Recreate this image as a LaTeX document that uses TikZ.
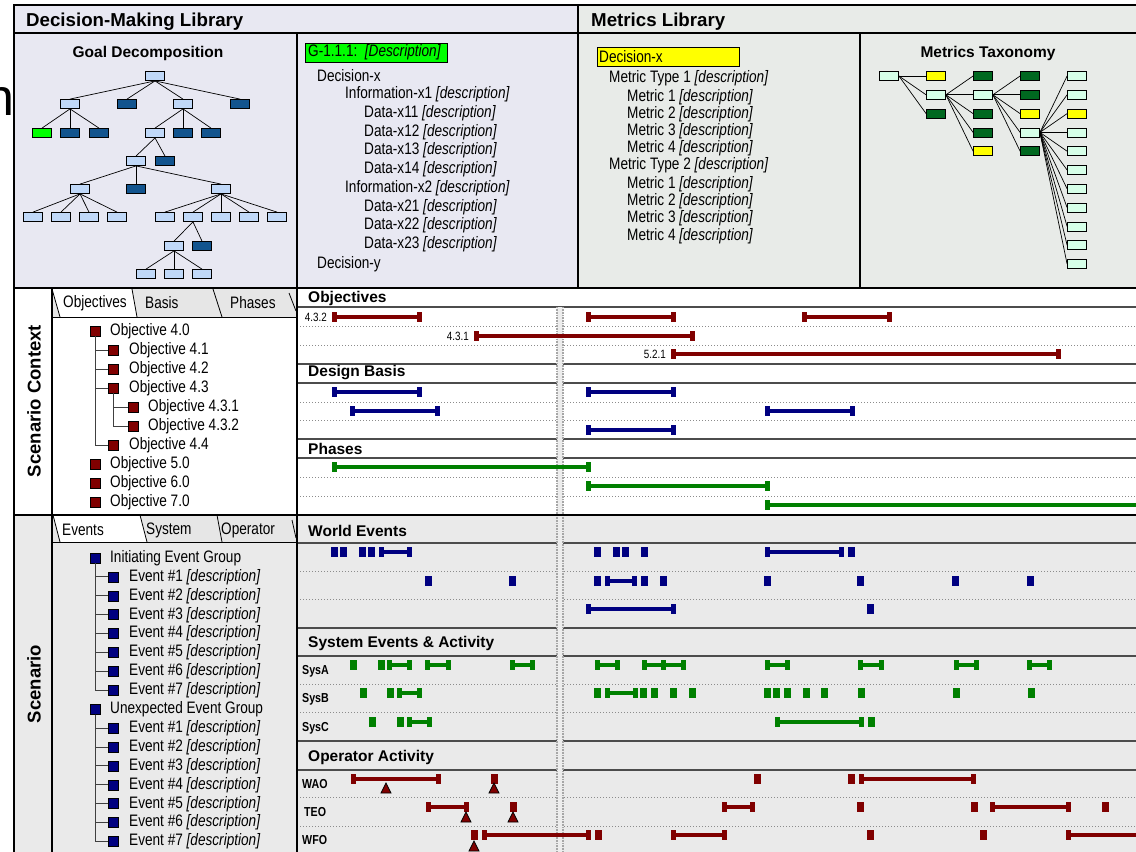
\documentclass[tikz,border=0pt]{standalone}
\usepackage{fontspec}
\setmainfont{Liberation Sans}[FakeStretch=0.82]
\newfontfamily\hf{Liberation Sans}
\definecolor{lbl}{RGB}{192,216,248}
\definecolor{dbl}{RGB}{18,84,142}
\definecolor{gbr}{RGB}{0,255,0}
\definecolor{mint}{RGB}{214,255,232}
\definecolor{dgr}{RGB}{0,104,32}
\definecolor{yel}{RGB}{255,255,0}
\definecolor{ored}{RGB}{128,0,0}
\definecolor{navy}{RGB}{0,0,128}
\definecolor{egr}{RGB}{0,128,0}
\definecolor{lav}{RGB}{232,232,242}
\definecolor{grg}{RGB}{232,235,232}
\definecolor{scg}{RGB}{234,234,234}
\definecolor{tabg}{RGB}{230,230,230}
\newcommand\tlbar[4]{\draw[#1,line width=3.5pt] (#3,#2)--(#4,#2);
  \fill[#1] ({#3-2.5},{#2-5}) rectangle ({#3+2.5},{#2+5});
  \fill[#1] ({#4-2.5},{#2-5}) rectangle ({#4+2.5},{#2+5});}
\newcommand\tlev[3]{\fill[#1] ({#3-3.5},{#2-5}) rectangle ({#3+3.5},{#2+5});}
\newcommand\tltri[2]{\draw[fill=ored,line width=0.7pt] ({#1-5},{#2+5}) -- (#1,{#2-5}) -- ({#1+5},{#2+5}) -- cycle;}
\tikzset{
  gbox/.style={draw=black,line width=0.8pt,minimum width=19pt,minimum height=9pt,inner sep=0pt},
  lb/.style={gbox,fill=lbl}, db/.style={gbox,fill=dbl}, gb/.style={gbox,fill=gbr},
  mb/.style={gbox,fill=mint}, dg/.style={gbox,fill=dgr}, yb/.style={gbox,fill=yel},
  osq/.style={draw=black,fill=ored,minimum size=10pt,inner sep=0pt,line width=0.6pt},
  nsq/.style={draw=black,fill=navy,minimum size=10pt,inner sep=0pt,line width=0.6pt},
  body/.style={font=\fontsize{16.6}{18}\selectfont,anchor=west,inner sep=0pt},
  sect/.style={font=\hf\bfseries\fontsize{15.5}{17}\selectfont,anchor=west,inner sep=0pt},
  head/.style={font=\hf\bfseries\fontsize{18.7}{20}\selectfont,anchor=west,inner sep=0pt},
  small/.style={font=\fontsize{12}{13}\selectfont,anchor=east,inner sep=0pt},
  rowlab/.style={font=\bfseries\fontsize{13}{14}\selectfont,anchor=west,inner sep=0pt},
  tree/.style={draw=black!75,line width=0.9pt},
  edge/.style={draw=black,line width=0.7pt},
  solidsep/.style={draw=black!70,line width=1.2pt},
  dotsep/.style={draw=black!45,dotted,line width=1pt},
  frame/.style={draw=black,line width=1.8pt},
}
\begin{document}
\begin{tikzpicture}[x=1pt,y=-1pt]
\useasboundingbox (0,0) rectangle (1136,852);
% backgrounds
\fill[lav] (14,5) rectangle (578,288);
\fill[grg] (578,5) rectangle (1136,288);
\fill[white] (14,288) rectangle (1136,515);
\fill[scg] (14,515) rectangle (1136,852);
% stray glyph at left
\node[font=\hf\fontsize{52}{52}\selectfont,anchor=base east,inner sep=0pt] (stray) at (14.5,115) {n};
% headers
\node[head] (hdl) at (26,22) {Decision-Making Library};
\node[head] (hml) at (591,22) {Metrics Library};
% ---------- goal decomposition ----------
\node[sect,anchor=center] (gdt) at (148,53) {Goal Decomposition};
\node[lb] (g0) at (155,76) {};
\node[lb] (g1) at (70,104) {};
\node[db] (g2) at (127,104) {};
\node[lb] (g3) at (183,104) {};
\node[db] (g4) at (240,104) {};
\node[gb] (g11) at (42,133) {};
\node[db] (g12) at (70,133) {};
\node[db] (g13) at (99,133) {};
\node[lb] (g31) at (155,133) {};
\node[db] (g32) at (183,133) {};
\node[db] (g33) at (211,133) {};
\node[lb] (g311) at (136,161) {};
\node[db] (g312) at (165,161) {};
\node[lb] (h1) at (80,189) {};
\node[db] (h2) at (136,189) {};
\node[lb] (h3) at (221,189) {};
\foreach \n/\x in {h11/33,h12/61,h13/89,h14/117,h31/165,h32/193,h33/221,h34/249,h35/277}
  \node[lb] (\n) at (\x,217) {};
\node[lb] (k1) at (174,246) {};
\node[db] (k2) at (202,246) {};
\foreach \n/\x in {m1/146,m2/174,m3/202}
  \node[lb] (\n) at (\x,274) {};
\foreach \p/\c in {g0/g1,g0/g2,g0/g3,g0/g4,g1/g11,g1/g12,g1/g13,g3/g31,g3/g32,g3/g33,
  g31/g311,g31/g312,g311/h1,g311/h2,g311/h3,h1/h11,h1/h12,h1/h13,h1/h14,
  h3/h31,h3/h32,h3/h33,h3/h34,h3/h35,h32/k1,h32/k2,k1/m1,k1/m2,k1/m3}
  \draw[edge] (\p.south) -- (\c.north);
% ---------- decision text ----------
\node[draw=black,fill=gbr,line width=0.8pt,minimum width=142pt,minimum height=19pt,inner sep=0pt,anchor=north west] (gid) at (305,43) {};
\node[body] (gidt) at (308,52.5) {G-1.1.1:\ \ \textit{[Description]}};
\node[body] (dx) at (317,76) {Decision-x};
\node[body] (ix1) at (345,94.5) {Information-x1 \textit{[description]}};
\node[body] (d11) at (364,113) {Data-x11 \textit{[description]}};
\node[body] (d12) at (364,132) {Data-x12 \textit{[description]}};
\node[body] (d13) at (364,150.5) {Data-x13 \textit{[description]}};
\node[body] (d14) at (364,169) {Data-x14 \textit{[description]}};
\node[body] (ix2) at (345,188) {Information-x2 \textit{[description]}};
\node[body] (d21) at (364,207) {Data-x21 \textit{[description]}};
\node[body] (d22) at (364,225.5) {Data-x22 \textit{[description]}};
\node[body] (d23) at (364,244) {Data-x23 \textit{[description]}};
\node[body] (dy) at (317,264) {Decision-y};
% ---------- metrics text ----------
\node[draw=black,fill=yel,line width=0.8pt,minimum width=142pt,minimum height=19pt,inner sep=0pt,anchor=north west] (mdx) at (597,47) {};
\node[body] (mdxt) at (599,57) {Decision-x};
\node[body] (mt1) at (609,78) {Metric Type 1 \textit{[description]}};
\node[body] (m11) at (627,97) {Metric 1 \textit{[description]}};
\node[body] (m12) at (627,114) {Metric 2 \textit{[description]}};
\node[body] (m13) at (627,131) {Metric 3 \textit{[description]}};
\node[body] (m14) at (627,148) {Metric 4 \textit{[description]}};
\node[body] (mt2) at (609,165) {Metric Type 2 \textit{[description]}};
\node[body] (m21) at (627,184) {Metric 1 \textit{[description]}};
\node[body] (m22) at (627,201) {Metric 2 \textit{[description]}};
\node[body] (m23) at (627,218) {Metric 3 \textit{[description]}};
\node[body] (m24) at (627,236) {Metric 4 \textit{[description]}};
% ---------- metrics taxonomy ----------
\node[sect,anchor=center] (mtt) at (988,53) {Metrics Taxonomy};
\node[mb] (t1) at (889,76) {};
\node[yb] (t21) at (936,76) {};
\node[mb] (t22) at (936,94.8) {};
\node[dg] (t23) at (936,113.6) {};
\node[dg] (t31) at (983,76) {};
\node[mb] (t32) at (983,94.8) {};
\node[dg] (t33) at (983,113.6) {};
\node[dg] (t34) at (983,132.4) {};
\node[yb] (t35) at (983,151.2) {};
\node[dg] (t41) at (1030,76) {};
\node[dg] (t42) at (1030,94.8) {};
\node[yb] (t43) at (1030,113.6) {};
\node[mb] (t44) at (1030,132.4) {};
\node[dg] (t45) at (1030,151.2) {};
\foreach \i in {1,...,11}{
  \pgfmathsetmacro\yy{76+18.8*(\i-1)}
  \ifnum\i=3 \node[yb] (t5\i) at (1077,\yy) {};
  \else \node[mb] (t5\i) at (1077,\yy) {}; \fi}
\foreach \c in {t21,t22,t23} \draw[edge] (t1.east) -- (\c.west);
\foreach \c in {t31,t32,t33,t34,t35} \draw[edge] (t22.east) -- (\c.west);
\foreach \c in {t41,t42,t43,t44,t45} \draw[edge] (t32.east) -- (\c.west);
\foreach \i in {1,...,11} \draw[edge] (t44.east) -- (t5\i.west);
% ---------- tab rows ----------
\fill[tabg] (52,288) rectangle (297,317);
\fill[white] (52,289) -- (132,289) -- (137,317) -- (60,317) -- cycle;
\foreach \a/\b/\c/\d in {52/289/60/317,132/289/137/317,213/289/222/317,289/293/296/311}
  \draw[black,line width=0.8pt] (\a,\b) -- (\c,\d);
\node[body] (tb1) at (63,303) {Objectives};
\node[body] (tb2) at (145,303) {Basis};
\node[body] (tb3) at (230,303) {Phases};
\fill[tabg] (52,515) rectangle (297,542);
\fill[white] (53,515) -- (140,515) -- (147,542) -- (60,542) -- cycle;
\foreach \a/\b/\c/\d in {53/515/60/542,140/515/147/542,217/515/222/542,292/520/296/538}
  \draw[black,line width=0.8pt] (\a,\b) -- (\c,\d);
\node[body] (tb4) at (62,530) {Events};
\node[body] (tb5) at (146,530) {System};
\node[body] (tb6) at (221,530) {Operator};
\draw[black,line width=1pt] (52,317) -- (297,317);
\draw[black,line width=1pt] (52,542) -- (297,542);
% side labels
\node[font=\hf\bfseries\fontsize{18.5}{20}\selectfont,rotate=90,inner sep=0pt] (scl) at (34,401) {Scenario Context};
\node[font=\hf\bfseries\fontsize{18.5}{20}\selectfont,rotate=90,inner sep=0pt] (scn) at (34,684) {Scenario};
% ---------- objectives tree ----------
\node[osq] (o40) at (95,331) {};   \node[body] (o40t) at (110,331) {Objective 4.0};
\node[osq] (o41) at (113,350) {};  \node[body] (o41t) at (129,350) {Objective 4.1};
\node[osq] (o42) at (113,369) {};  \node[body] (o42t) at (129,369) {Objective 4.2};
\node[osq] (o43) at (113,388) {};  \node[body] (o43t) at (129,388) {Objective 4.3};
\node[osq] (o431) at (133,407) {}; \node[body] (o431t) at (148,407) {Objective 4.3.1};
\node[osq] (o432) at (133,426) {}; \node[body] (o432t) at (148,426) {Objective 4.3.2};
\node[osq] (o44) at (113,445) {};  \node[body] (o44t) at (129,445) {Objective 4.4};
\node[osq] (o50) at (95,464) {};   \node[body] (o50t) at (110,464) {Objective 5.0};
\node[osq] (o60) at (95,483) {};   \node[body] (o60t) at (110,483) {Objective 6.0};
\node[osq] (o70) at (95,502) {};   \node[body] (o70t) at (110,502) {Objective 7.0};
\foreach \c in {o41,o42,o43,o44} \draw[tree] (o40.south) |- (\c.west);
\foreach \c in {o431,o432} \draw[tree] (o43.south) |- (\c.west);
% ---------- events tree ----------
\node[nsq] (i0) at (95,558) {};
\node[body] (i0t) at (110,558) {Initiating Event Group};
\foreach \k in {1,...,7}{
  \pgfmathsetmacro\yy{558+18.9*\k}
  \node[nsq] (ie\k) at (113,\yy) {};
  \node[body] (ie\k t) at (129,\yy) {Event \#\k\ \textit{[description]}};
  \draw[tree] (i0.south) |- (ie\k.west);}
\node[nsq] (u0) at (95,709.2) {};
\node[body] (u0t) at (110,709.2) {Unexpected Event Group};
\foreach \k in {1,...,7}{
  \pgfmathsetmacro\yy{709.2+18.9*\k}
  \node[nsq] (ue\k) at (113,\yy) {};
  \node[body] (ue\k t) at (129,\yy) {Event \#\k\ \textit{[description]}};
  \draw[tree] (u0.south) |- (ue\k.west);}
% ---------- timeline grid ----------
\foreach \y in {307,364,383,439,458,543,628,656,741,770} \draw[solidsep] (297,\y) -- (1136,\y);
\foreach \y in {326,345,402,420,477,496,571,599,684,712,797,826} \draw[dotsep] (297,\y) -- (1136,\y);
\fill[black!7] (557,307) rectangle (563,852);
\draw[black!35,line width=1.2pt,dash pattern=on 1pt off 0.6pt] (557,307) -- (557,852);
\draw[black!35,line width=1.2pt,dash pattern=on 1pt off 0.6pt] (563,307) -- (563,852);
% section titles
\node[sect] (s1) at (308,298) {Objectives};
\node[sect] (s2) at (308,373) {Design Basis};
\node[sect] (s3) at (308,449) {Phases};
\node[sect] (s4) at (308,531) {World Events};
\node[sect] (s5) at (308,643) {System Events \& Activity};
\node[sect] (s6) at (308,757) {Operator Activity};
\node[small] (l1) at (327,317) {4.3.2};
\node[small] (l2) at (469,336) {4.3.1};
\node[small] (l3) at (666,354) {5.2.1};
\node[rowlab] (r1) at (302,671) {SysA};
\node[rowlab] (r2) at (302,699) {SysB};
\node[rowlab] (r3) at (302,728) {SysC};
\node[rowlab] (r4) at (302,784) {WAO};
\node[rowlab] (r5) at (304,812) {TEO};
\node[rowlab] (r6) at (302,840) {WFO};
% objectives bars
\foreach \a/\b in {334/419,588/673,804/889} \tlbar{ored}{317}{\a}{\b};
\tlbar{ored}{336}{476}{692}
\tlbar{ored}{354}{673}{1058}
% design basis
\foreach \a/\b in {334/419,588/673} \tlbar{navy}{392}{\a}{\b};
\foreach \a/\b in {352/437,767/852} \tlbar{navy}{411}{\a}{\b};
\tlbar{navy}{430}{588}{673}
% phases
\tlbar{egr}{467}{334}{588}
\tlbar{egr}{486}{588}{767}
\tlbar{egr}{505}{767}{1145}
% world events
\foreach \x in {334,343,362,371,597,616,625,644,851} \tlev{navy}{552}{\x};
\foreach \a/\b in {381/409,767/841} \tlbar{navy}{552}{\a}{\b};
\foreach \x in {428,512,597,644,663,767,860,955,1030} \tlev{navy}{581}{\x};
\tlbar{navy}{581}{607}{634}
\tlbar{navy}{609}{588}{673}
\tlev{navy}{609}{870}
% system events
\foreach \x in {353,381} \tlev{egr}{665}{\x};
\foreach \a/\b in {389/409,427/448,512/532,597/617,644/663,663/683,767/787,860/881,956/976,1029/1049} \tlbar{egr}{665}{\a}{\b};
\foreach \x in {363,390,597,643,654,673,692,767,776,787,806,824,861,956,1031} \tlev{egr}{693}{\x};
\foreach \a/\b in {399/419,607/635} \tlbar{egr}{693}{\a}{\b};
\foreach \x in {372,400,871} \tlev{egr}{722}{\x};
\foreach \a/\b in {409/429,777/861} \tlbar{egr}{722}{\a}{\b};
% operator activity
\foreach \x in {494,757,851} \tlev{ored}{779}{\x};
\foreach \a/\b in {353/438,861/973} \tlbar{ored}{779}{\a}{\b};
\foreach \x in {513,860,974,1105} \tlev{ored}{807}{\x};
\foreach \a/\b in {428/466,724/752,992/1068} \tlbar{ored}{807}{\a}{\b};
\foreach \x in {474,598,870,983} \tlev{ored}{835}{\x};
\foreach \a/\b in {484/588,673/724,1068/1145} \tlbar{ored}{835}{\a}{\b};
\tltri{386}{788}
\tltri{494}{788}
\tltri{466}{817}
\tltri{513}{817}
\tltri{474}{846}
% ---------- frame ----------
\draw[frame] (14,5) -- (1136,5);
\draw[frame] (14,4) -- (14,852);
\draw[black,line width=1.2pt] (14,33) -- (1136,33);
\draw[black,line width=1.2pt] (578,5) -- (578,288);
\draw[black,line width=1.2pt] (297,33) -- (297,852);
\draw[black,line width=1.2pt] (860,33) -- (860,288);
\draw[frame] (14,288) -- (1136,288);
\draw[frame] (14,515) -- (1136,515);
\draw[black,line width=1.2pt] (52,288) -- (52,852);
\end{tikzpicture}
\end{document}
